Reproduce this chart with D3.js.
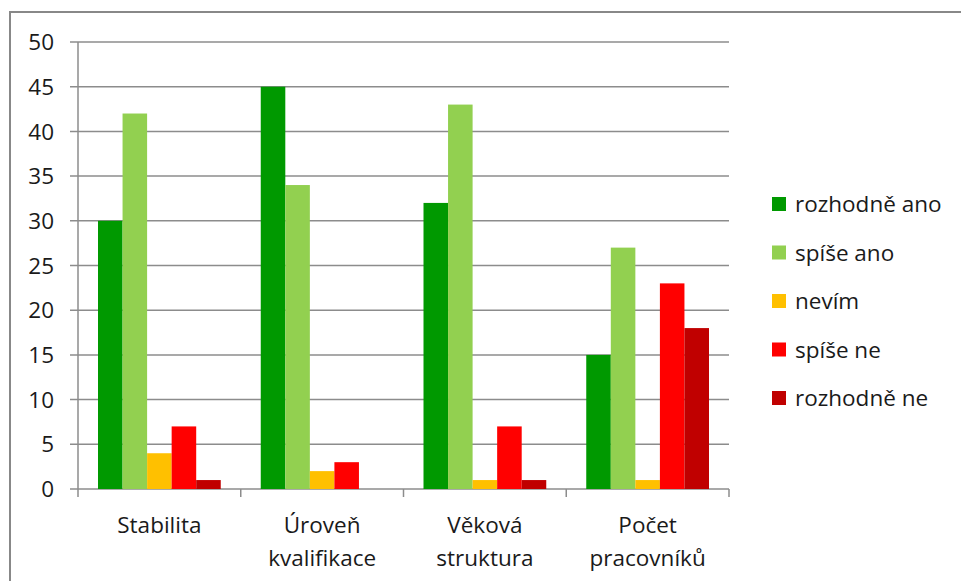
<!DOCTYPE html>
<html><head><meta charset="utf-8">
<script src="https://cdn.jsdelivr.net/npm/d3@7"></script>
<style>body{margin:0;background:#fff}svg{display:block}</style>
</head><body>
<svg id="chart" width="961" height="581"></svg>
<script>
// Survey answers per topic
const categories = [["Stabilita"], ["Úroveň", "kvalifikace"], ["Věková", "struktura"], ["Počet", "pracovníků"]];
const seriesNames = ["rozhodně ano", "spíše ano", "nevím", "spíše ne", "rozhodně ne"];
const seriesColors = ["#009900", "#92D050", "#FFC000", "#FF0000", "#C00000"];
const rozhodneAno = [30, 45, 32, 15];
const spiseAno = [42, 34, 43, 27];
const nevim = [4, 2, 1, 1];
const spiseNe = [7, 3, 7, 23];
const rozhodneNe = [1, 0, 1, 18];
const yTicks = [0, 5, 10, 15, 20, 25, 30, 35, 40, 45, 50];

const series = [rozhodneAno, spiseAno, nevim, spiseNe, rozhodneNe];
const font = "Open Sans, sans-serif";
const fontSize = 22.5;
const textColor = "#1a1a1a";
const svg = d3.select("#chart");

// outer frame
svg.append("rect").attr("x", 10).attr("y", 12).attr("width", 960).attr("height", 580)
  .attr("fill", "none").attr("stroke", "#888").attr("stroke-width", 2);

const plotLeft = 78, plotRight = 729, plotTop = 42, plotBottom = 489;
const x = d3.scaleBand().domain(d3.range(categories.length)).range([plotLeft, plotRight]);
const gap = 20;
const xs = d3.scaleBand().domain(d3.range(series.length)).range([gap, x.bandwidth() - gap]);
const y = d3.scaleLinear().domain([0, 50]).range([plotBottom, plotTop]);

// horizontal gridlines with outward ticks
const grid = svg.append("g");
grid.selectAll("line").data(yTicks).join("line")
  .attr("x1", plotLeft - 8).attr("x2", plotRight)
  .attr("y1", d => y(d)).attr("y2", d => y(d))
  .attr("stroke", "#8c8c8c").attr("stroke-width", 1.5);
grid.selectAll("text").data(yTicks).join("text")
  .attr("x", 54).attr("y", d => y(d)).attr("dy", "0.36em")
  .attr("text-anchor", "end").attr("font-family", font).attr("font-size", fontSize)
  .attr("fill", textColor).text(d => d);

// axis lines
svg.append("line").attr("x1", plotLeft).attr("x2", plotLeft).attr("y1", plotTop).attr("y2", plotBottom + 8)
  .attr("stroke", "#8c8c8c").attr("stroke-width", 1.5);
svg.append("g").selectAll("line").data(d3.range(1, categories.length + 1)).join("line")
  .attr("x1", i => plotLeft + i * x.bandwidth()).attr("x2", i => plotLeft + i * x.bandwidth())
  .attr("y1", plotBottom).attr("y2", plotBottom + 8)
  .attr("stroke", "#8c8c8c").attr("stroke-width", 1.5);

// bars
series.forEach((vals, s) => {
  svg.append("g").selectAll("rect").data(vals).join("rect")
    .attr("x", (v, i) => x(i) + xs(s)).attr("width", xs.bandwidth())
    .attr("y", v => y(v)).attr("height", v => y(0) - y(v))
    .attr("fill", seriesColors[s]);
});

// category labels
const cat = svg.append("g");
categories.forEach((lines, i) => {
  const t = cat.append("text").attr("text-anchor", "middle")
    .attr("font-family", font).attr("font-size", fontSize).attr("fill", textColor);
  lines.forEach((ln, k) => {
    t.append("tspan").attr("x", x(i) + x.bandwidth() / 2).attr("y", 533 + k * 33).text(ln);
  });
});

// legend
const leg = svg.append("g");
seriesNames.forEach((n, s) => {
  const cy = 204 + s * 48.5;
  leg.append("rect").attr("x", 772).attr("y", cy - 7).attr("width", 14).attr("height", 14)
    .attr("fill", seriesColors[s]);
  leg.append("text").attr("x", 795).attr("y", cy).attr("dy", "0.36em")
    .attr("font-family", font).attr("font-size", fontSize).attr("fill", textColor).text(n);
});
</script>
</body></html>
